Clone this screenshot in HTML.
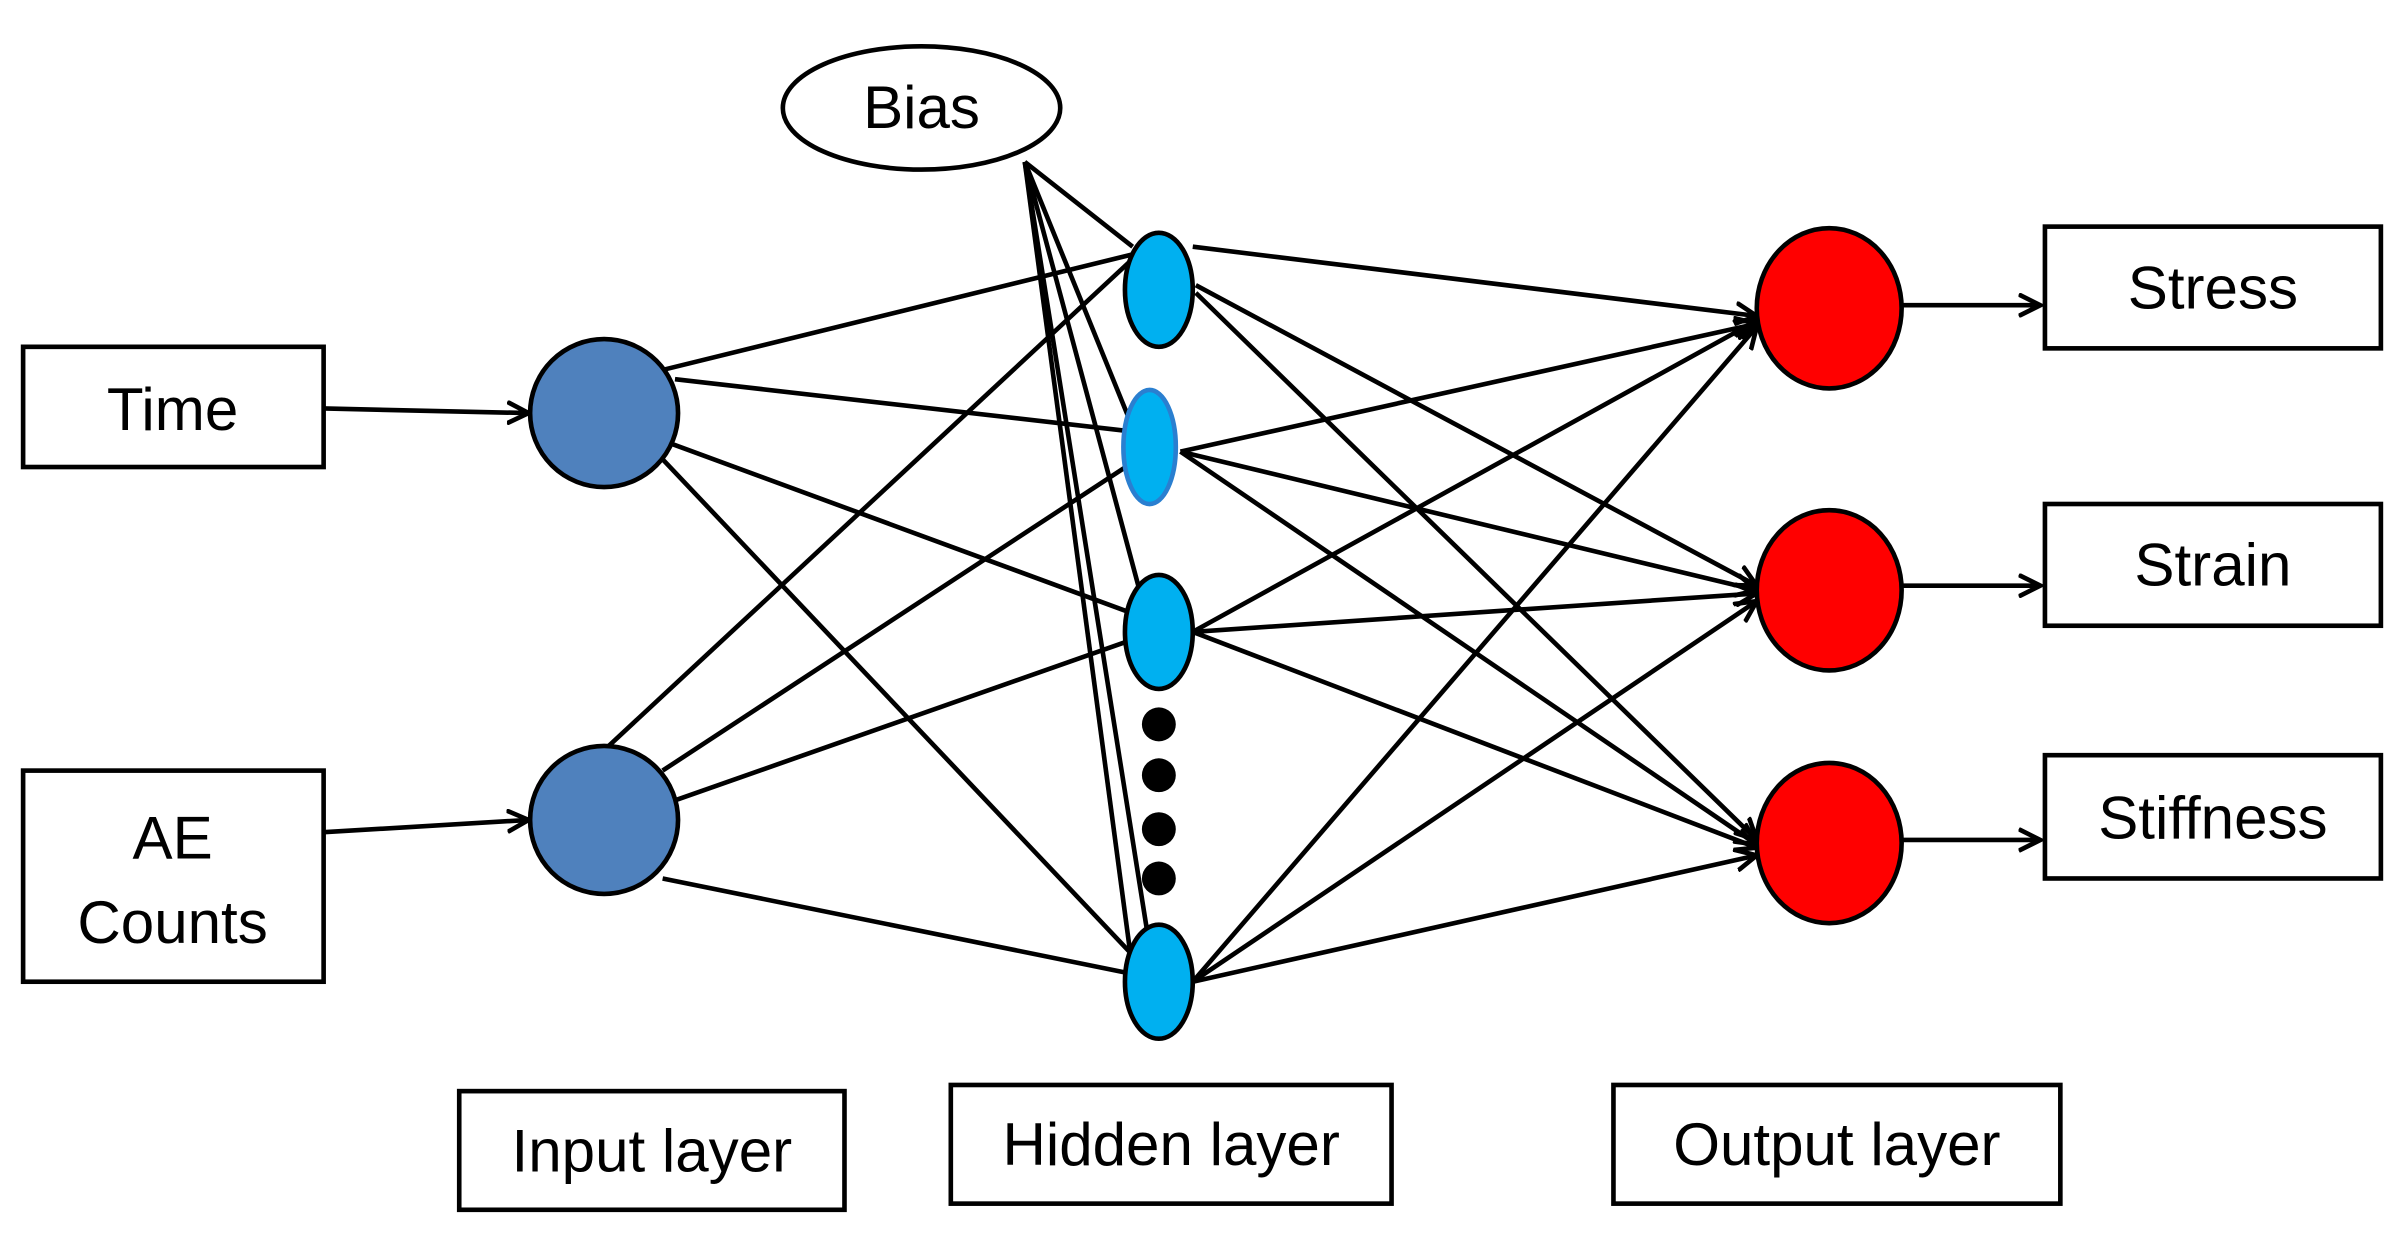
<!DOCTYPE html>
<html><head><style>html,body{margin:0;padding:0;background:#fff;}svg{display:block}</style></head>
<body>
<svg width="2404" height="1233" viewBox="0 0 1560 800" xmlns="http://www.w3.org/2000/svg" font-family="Liberation Sans, sans-serif">
<defs><marker id="a" markerWidth="16" markerHeight="16" refX="14" refY="8" orient="auto" markerUnits="userSpaceOnUse"><path d="M0,1 L14,8 L0,15" fill="none" stroke="#000" stroke-width="3"/></marker></defs>
<g stroke="#000" stroke-width="3" fill="none">
<line x1="430" y1="240" x2="735" y2="165"/>
<line x1="438" y1="246" x2="735" y2="280"/>
<line x1="436" y1="288" x2="735" y2="398"/>
<line x1="430" y1="298" x2="740" y2="625"/>
<line x1="395" y1="484" x2="735" y2="168"/>
<line x1="430" y1="500" x2="735" y2="300"/>
<line x1="436" y1="520" x2="735" y2="415"/>
<line x1="430" y1="570" x2="735" y2="632"/>
<line x1="665" y1="105" x2="735" y2="160"/>
<line x1="665" y1="105" x2="732" y2="270"/>
<line x1="665" y1="105" x2="740" y2="385"/>
<line x1="665" y1="105" x2="745" y2="608"/>
<line x1="665" y1="105" x2="733" y2="615"/>
<g marker-end="url(#a)">
<line x1="774" y1="160" x2="1140" y2="205"/>
<line x1="776" y1="185" x2="1140" y2="380"/>
<line x1="776" y1="190" x2="1140" y2="545"/>
<line x1="766" y1="293" x2="1140" y2="210"/>
<line x1="766" y1="293" x2="1140" y2="383"/>
<line x1="766" y1="293" x2="1140" y2="548"/>
<line x1="774" y1="410" x2="1140" y2="208"/>
<line x1="774" y1="410" x2="1140" y2="385"/>
<line x1="774" y1="410" x2="1140" y2="550"/>
<line x1="774" y1="637" x2="1140" y2="212"/>
<line x1="774" y1="637" x2="1140" y2="390"/>
<line x1="774" y1="637" x2="1140" y2="555"/>
<line x1="210" y1="265" x2="343" y2="268"/>
<line x1="210" y1="540" x2="343" y2="532"/>
<line x1="1235" y1="198" x2="1324" y2="198"/>
<line x1="1235" y1="380" x2="1324" y2="380"/>
<line x1="1235" y1="545" x2="1324" y2="545"/>
</g>
</g>
<g stroke="#000" stroke-width="3">
<ellipse cx="598" cy="70" rx="90" ry="40" fill="#fff"/>
<circle cx="392" cy="268" r="48" fill="#4f81bd"/>
<circle cx="392" cy="532" r="48" fill="#4f81bd"/>
<ellipse cx="752" cy="188" rx="22" ry="37" fill="#00b0f0"/>
<ellipse cx="746" cy="290" rx="17" ry="37" fill="#00b0f0" stroke="#2a7fd0"/>
<ellipse cx="752" cy="410" rx="22" ry="37" fill="#00b0f0"/>
<ellipse cx="752" cy="637" rx="22" ry="37" fill="#00b0f0"/>
<ellipse cx="1187" cy="200" rx="47" ry="52" fill="#f00"/>
<ellipse cx="1187" cy="383" rx="47" ry="52" fill="#f00"/>
<ellipse cx="1187" cy="547" rx="47" ry="52" fill="#f00"/>
<rect x="15" y="225" width="195" height="78" fill="#fff"/>
<rect x="15" y="500" width="195" height="137" fill="#fff"/>
<rect x="1327" y="147" width="218" height="79" fill="#fff"/>
<rect x="1327" y="327" width="218" height="79" fill="#fff"/>
<rect x="1327" y="490" width="218" height="80" fill="#fff"/>
<rect x="298" y="708" width="250" height="77" fill="#fff"/>
<rect x="617" y="704" width="286" height="77" fill="#fff"/>
<rect x="1047" y="704" width="290" height="77" fill="#fff"/>
</g>
<g fill="#000">
<circle cx="752" cy="470" r="11"/><circle cx="752" cy="503" r="11"/><circle cx="752" cy="538" r="11"/><circle cx="752" cy="570" r="11"/>
</g>
<g font-size="39" text-anchor="middle" fill="#000">
<text x="598" y="83">Bias</text>
<text x="112" y="279">Time</text>
<text x="112" y="557">AE</text>
<text x="112" y="612">Counts</text>
<text x="1436" y="200">Stress</text>
<text x="1436" y="380">Strain</text>
<text x="1436" y="544">Stiffness</text>
<text x="423" y="760">Input layer</text>
<text x="760" y="756">Hidden layer</text>
<text x="1192" y="756">Output layer</text>
</g>
</svg>
</body></html>
